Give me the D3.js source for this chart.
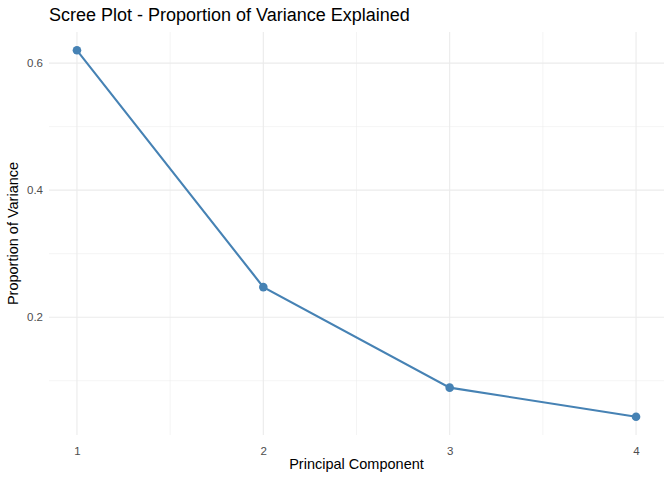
<!DOCTYPE html>
<html>
<head>
<meta charset="utf-8">
<script src="https://cdn.jsdelivr.net/npm/d3@7"></script>
<style>
  body { margin: 0; background: #fff; }
  text { font-family: "Liberation Sans", Arial, sans-serif; }
</style>
</head>
<body>
<div id="container"></div>
<script>
/* DATA */
const components = [1, 2, 3, 4];
const propVariance = [0.6201, 0.2474, 0.0891, 0.0434];
const yTicks = [0.2, 0.4, 0.6];
const yMinor = [0.1, 0.3, 0.5];
const xMinor = [1.5, 2.5, 3.5];

/* CONSTANTS */
const width = 672,
  height = 480,
  margin = { top: 32, bottom: 45, left: 49, right: 8 };

const svg = d3.select("#container")
  .append("svg")
  .attr("width", width)
  .attr("height", height);

// SCALES (ggplot style 5% expansion)
const xExt = d3.extent(components), xPad = (xExt[1] - xExt[0]) * 0.05;
const yExt = d3.extent(propVariance), yPad = (yExt[1] - yExt[0]) * 0.05;

const x = d3.scaleLinear()
  .domain([xExt[0] - xPad, xExt[1] + xPad])
  .range([margin.left, width - margin.right]);

const y = d3.scaleLinear()
  .domain([yExt[0] - yPad, yExt[1] + yPad])
  .range([height - margin.bottom, margin.top]);

// GRID
const grid = svg.append("g");
grid.selectAll("line.yminor")
  .data(yMinor)
  .join("line")
  .attr("x1", x.range()[0]).attr("x2", x.range()[1])
  .attr("y1", d => y(d)).attr("y2", d => y(d))
  .attr("stroke", "#ebebeb").attr("stroke-width", 0.55);
grid.selectAll("line.xminor")
  .data(xMinor)
  .join("line")
  .attr("y1", y.range()[0]).attr("y2", y.range()[1])
  .attr("x1", d => x(d)).attr("x2", d => x(d))
  .attr("stroke", "#ebebeb").attr("stroke-width", 0.55);
grid.selectAll("line.ymajor")
  .data(yTicks)
  .join("line")
  .attr("x1", x.range()[0]).attr("x2", x.range()[1])
  .attr("y1", d => y(d)).attr("y2", d => y(d))
  .attr("stroke", "#ebebeb").attr("stroke-width", 1.1);
grid.selectAll("line.xmajor")
  .data(components)
  .join("line")
  .attr("y1", y.range()[0]).attr("y2", y.range()[1])
  .attr("x1", d => x(d)).attr("x2", d => x(d))
  .attr("stroke", "#ebebeb").attr("stroke-width", 1.1);

// AXES
const xAxis = svg.append("g")
  .attr("transform", `translate(0,${height - margin.bottom})`)
  .call(d3.axisBottom(x).tickValues(components).tickSize(0).tickPadding(12).tickFormat(d3.format("d")));
const yAxis = svg.append("g")
  .attr("transform", `translate(${margin.left},0)`)
  .call(d3.axisLeft(y).tickValues(yTicks).tickSize(0).tickPadding(6).tickFormat(d3.format(".1f")));
[xAxis, yAxis].forEach(a => {
  a.select(".domain").remove();
  a.selectAll("text")
    .attr("fill", "#4d4d4d")
    .style("font-size", "11.5px")
    .style("font-family", "'Liberation Sans', Arial, sans-serif");
});

// LINE + POINTS
const line = d3.line()
  .x((d, i) => x(components[i]))
  .y(d => y(d));

svg.append("path")
  .datum(propVariance)
  .attr("d", line)
  .attr("fill", "none")
  .attr("stroke", "steelblue")
  .attr("stroke-width", 2.1);

svg.selectAll("circle.pt")
  .data(propVariance)
  .join("circle")
  .attr("class", "pt")
  .attr("cx", (d, i) => x(components[i]))
  .attr("cy", d => y(d))
  .attr("r", 4.3)
  .attr("fill", "steelblue");

// TITLES (title aligned to panel left, as ggplot does)
svg.append("text")
  .attr("x", margin.left).attr("y", 21)
  .attr("font-size", "18px")
  .attr("fill", "#000")
  .text("Scree Plot - Proportion of Variance Explained");

svg.append("text")
  .attr("x", (x.range()[0] + x.range()[1]) / 2)
  .attr("y", 469)
  .attr("text-anchor", "middle")
  .attr("font-size", "14.5px")
  .attr("fill", "#000")
  .text("Principal Component");

svg.append("text")
  .attr("transform", `translate(18,${(y.range()[0] + y.range()[1]) / 2}) rotate(-90)`)
  .attr("text-anchor", "middle")
  .attr("font-size", "14.5px")
  .attr("fill", "#000")
  .text("Proportion of Variance");
</script>
</body>
</html>
